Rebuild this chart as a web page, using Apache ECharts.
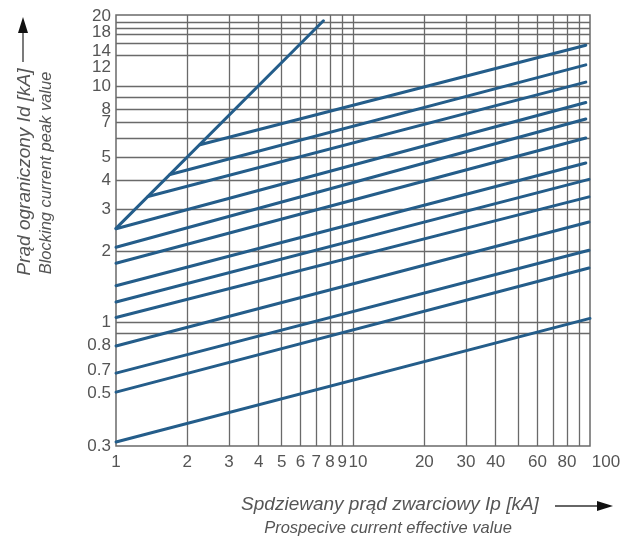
<!DOCTYPE html>
<html><head><meta charset="utf-8">
<script src="https://cdn.jsdelivr.net/npm/echarts@6/dist/echarts.min.js"></script>
<style>html,body{margin:0;padding:0;background:#fff}#c{width:624px;height:542px}</style>
</head><body><div id="c"></div>
<script>
// Tick labels (the last y value is a blank placeholder that is hidden)
const xTicks = [1, 2, 3, 4, 5, 6, 7, 8, 9, 10, 20, 30, 40, 60, 80, 100];
const yTicks = [0.3, 0.5, 0.7, 0.8, 1, 2, 3, 4, 5, 7, 8, 10, 12, 14, 18, 19.999, 19.9996];
// Grid lines
const xGrid = [2, 3, 4, 5, 6, 7, 8, 9, 10, 20, 30, 40, 50, 60, 70, 80, 90];
const yGrid = [0.9, 1, 2, 3, 4, 5, 6, 7, 8, 9, 10, 13.5, 15.2, 16.6, 17.6, 18.7];
// Envelope (steep line)
const envelopeX = [1, 7.5];
const envelopeY = [2.5, 18.9];
// Family of let-through curves (start and end points)
const startX = [2.26, 1.69, 1.365, 1, 1, 1, 1, 1, 1, 1, 1, 1, 1];
const startY = [5.65, 4.23, 3.41, 2.49, 2.08, 1.78, 1.43, 1.22, 1.05, 0.795, 0.61, 0.507, 0.312];
const endX = [96, 96, 96, 96, 96, 96, 96, 99, 99, 99, 99, 99, 100];
const endY = [14.9, 12.3, 10.4, 8.52, 7.26, 6.03, 4.73, 4.03, 3.40, 2.66, 2.02, 1.70, 1.04];

const LINE_COLOR = '#245d8a';
const GRID_COLOR = '#6a6a6a';
const TEXT_COLOR = '#555';
const FONT = '"Liberation Sans", Arial, sans-serif';

const chart = echarts.init(document.getElementById('c'), null, {renderer: 'canvas'});

const fmt = v => String(Number(Number(v).toPrecision(3)));

const series = [];
series.push({
  type: 'line', name: 'grid', data: [[1, 0.3]], showSymbol: false, symbol: 'none',
  lineStyle: {width: 0}, z: 1, silent: true, animation: false,
  markLine: {
    z: 1, silent: true, symbol: 'none', animation: false,
    label: {show: false},
    lineStyle: {color: GRID_COLOR, width: 1.3, type: 'solid'},
    emphasis: {disabled: true},
    data: xGrid.map(v => ({xAxis: v})).concat(yGrid.map(v => ({yAxis: v})))
  }
});
series.push({
  type: 'line', name: 'envelope',
  data: envelopeX.map((x, i) => [x, envelopeY[i]]),
  symbol: 'none', z: 3, animation: false, silent: true,
  lineStyle: {color: LINE_COLOR, width: 3, cap: 'round'}
});
for (let i = 0; i < startX.length; i++) {
  series.push({
    type: 'line', name: 'c' + i,
    data: [[startX[i], startY[i]], [endX[i], endY[i]]],
    symbol: 'none', z: 3, animation: false, silent: true,
    lineStyle: {color: LINE_COLOR, width: 3, cap: 'round'}
  });
}

const lbl = {fontSize: 17, color: TEXT_COLOR, fontFamily: FONT};

chart.setOption({
  animation: false,
  backgroundColor: '#fff',
  grid: {left: 116, right: 34, top: 15, bottom: 96, show: true, borderColor: GRID_COLOR, borderWidth: 1.5, containLabel: false},
  xAxis: {
    type: 'log', logBase: 10, min: 1, max: 100,
    axisLine: {show: false}, axisTick: {show: false}, splitLine: {show: false}, minorSplitLine: {show: false},
    axisLabel: {
      customValues: xTicks, margin: 8, color: TEXT_COLOR, fontSize: 17, fontFamily: FONT,
      showMinLabel: true, showMaxLabel: true, hideOverlap: false,
      formatter: v => {
        const s = fmt(v);
        if (s === '10') return '{a|10}';
        if (s === '100') return '{b|100}';
        return s;
      },
      rich: {
        a: Object.assign({padding: [0, 0, 0, 10]}, lbl),
        b: Object.assign({padding: [0, 0, 0, 32]}, lbl)
      }
    }
  },
  yAxis: {
    type: 'log', logBase: 10, min: 0.3, max: 20,
    axisLine: {show: false}, axisTick: {show: false}, splitLine: {show: false}, minorSplitLine: {show: false},
    axisLabel: {
      customValues: yTicks, margin: 5, color: TEXT_COLOR, fontSize: 17, fontFamily: FONT,
      showMinLabel: true, showMaxLabel: false, hideOverlap: false,
      formatter: v => {
        if (v > 19.9993) return '';
        const s = fmt(v);
        if (s === '0.7') return '{d|0.7}';
        if (s === '18') return '{e|18}';
        if (s === '20') return '{f|20}';
        return s;
      },
      rich: {
        d: Object.assign({padding: [22, 0, 0, 0]}, lbl),
        e: Object.assign({padding: [12, 0, 0, 0]}, lbl),
        f: Object.assign({padding: [3, 0, 0, 0]}, lbl)
      }
    }
  },
  series: series,
  graphic: [
    {type: 'text', x: 390, y: 505, style: {text: 'Spdziewany prąd zwarciowy Ip [kA]', font: 'italic 19px ' + FONT, fill: TEXT_COLOR, align: 'center', verticalAlign: 'middle'}},
    {type: 'text', x: 388, y: 528, style: {text: 'Prospecive current effective value', font: 'italic 16.5px ' + FONT, fill: TEXT_COLOR, align: 'center', verticalAlign: 'middle'}},
    {type: 'line', shape: {x1: 555, y1: 506, x2: 600, y2: 506}, style: {stroke: '#333', lineWidth: 1.3}},
    {type: 'polygon', shape: {points: [[613, 506], [597, 501], [597, 511]]}, style: {fill: '#111'}},
    {type: 'text', x: 25, y: 172, rotation: Math.PI / 2, style: {text: 'Prąd ograniczony Id [kA]', font: 'italic 19px ' + FONT, fill: TEXT_COLOR, align: 'center', verticalAlign: 'middle'}},
    {type: 'text', x: 46, y: 173, rotation: Math.PI / 2, style: {text: 'Blocking current peak value', font: 'italic 16.5px ' + FONT, fill: TEXT_COLOR, align: 'center', verticalAlign: 'middle'}},
    {type: 'line', shape: {x1: 23, y1: 62, x2: 23, y2: 30}, style: {stroke: '#333', lineWidth: 1.3}},
    {type: 'polygon', shape: {points: [[23, 17], [18, 33], [28, 33]]}, style: {fill: '#111'}}
  ]
});
</script>
</body></html>
